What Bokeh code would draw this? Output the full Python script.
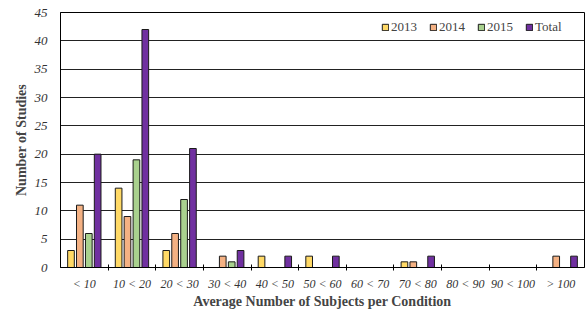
import numpy as np
from bokeh.plotting import figure
from bokeh.models import ColumnDataSource, FixedTicker, Range1d, Legend, LegendItem
from bokeh.transform import dodge
from bokeh.embed import file_html
from bokeh.resources import INLINE

categories = ["< 10", "10 < 20", "20 < 30", "30 < 40", "40 < 50", "50 < 60",
              "60 < 70", "70 < 80", "80 < 90", "90 < 100", "> 100"]
y2013 = [3, 14, 3, 0, 2, 2, 0, 1, 0, 0, 0]
y2014 = [11, 9, 6, 2, 0, 0, 0, 1, 0, 0, 2]
y2015 = [6, 19, 12, 1, 0, 0, 0, 0, 0, 0, 0]
total = [20, 42, 21, 3, 2, 2, 0, 2, 0, 0, 2]
series_names = ["2013", "2014", "2015", "Total"]
colors = ["#FFD966", "#F4B183", "#A9D18E", "#7030A0"]
offsets = [-0.28, -0.094, 0.094, 0.28]

FONT = "Liberation Serif"

p = figure(width=587, height=313, output_backend="svg", toolbar_location=None,
           x_range=Range1d(0, len(categories)), y_range=Range1d(0, 45),
           min_border_left=60, min_border_right=3, min_border_top=12, min_border_bottom=46)

items = []
for name, vals, col, off in zip(series_names, [y2013, y2014, y2015, total], colors, offsets):
    xs = [i + 0.5 for i, v in enumerate(vals) if v > 0]
    ys = [v for v in vals if v > 0]
    src = ColumnDataSource(dict(x=xs, top=ys))
    r = p.vbar(x=dodge("x", off), top="top", bottom=0, width=0.14, source=src,
               fill_color=col, line_color="#1a1a1a", line_width=1)
    items.append(LegendItem(label=name, renderers=[r]))

legend = Legend(items=items, orientation="horizontal", location=(321, 232),
                background_fill_alpha=0, border_line_alpha=0,
                label_text_font=FONT, label_text_font_size="13px",
                glyph_width=8, glyph_height=8, label_standoff=2, spacing=12,
                margin=0, padding=0, label_height=13)
p.add_layout(legend)

# x axis
centers = [i + 0.5 for i in range(len(categories))]
bounds = [float(i) for i in range(1, len(categories))]
p.xaxis.ticker = FixedTicker(ticks=centers, minor_ticks=bounds)
p.xaxis.major_label_overrides = {c: lab for c, lab in zip(centers, categories)}
p.xaxis.major_tick_line_color = None
p.xaxis.minor_tick_in = 3
p.xaxis.minor_tick_out = 3
p.xaxis.minor_tick_line_color = "black"
p.xaxis.axis_line_color = "black"
p.xaxis.major_label_text_font = FONT
p.xaxis.major_label_text_font_style = "italic"
p.xaxis.major_label_text_font_size = "12px"
p.xaxis.major_label_text_color = "#333333"
p.xaxis.major_label_standoff = 3
p.xaxis.axis_label = "Average Number of Subjects per Condition"
p.xaxis.axis_label_text_font = FONT
p.xaxis.axis_label_text_font_style = "bold"
p.xaxis.axis_label_text_font_size = "14px"
p.xaxis.axis_label_standoff = 0

# y axis
p.yaxis.ticker = FixedTicker(ticks=list(range(0, 46, 5)))
p.yaxis.major_tick_line_color = None
p.yaxis.minor_tick_line_color = None
p.yaxis.axis_line_color = "black"
p.yaxis.major_label_text_font = FONT
p.yaxis.major_label_text_font_style = "italic"
p.yaxis.major_label_text_font_size = "13px"
p.yaxis.major_label_text_color = "#333333"
p.yaxis.major_label_standoff = 7
p.yaxis.axis_label = "Number of Studies"
p.yaxis.axis_label_text_font = FONT
p.yaxis.axis_label_text_font_style = "bold"
p.yaxis.axis_label_text_font_size = "14px"
p.yaxis.axis_label_standoff = 3

p.xgrid.grid_line_color = None
p.ygrid.grid_line_color = "#222222"
p.ygrid.grid_line_width = 1
p.outline_line_color = "black"
p.outline_line_width = 1

open("out.html", "w").write(file_html(p, INLINE))
